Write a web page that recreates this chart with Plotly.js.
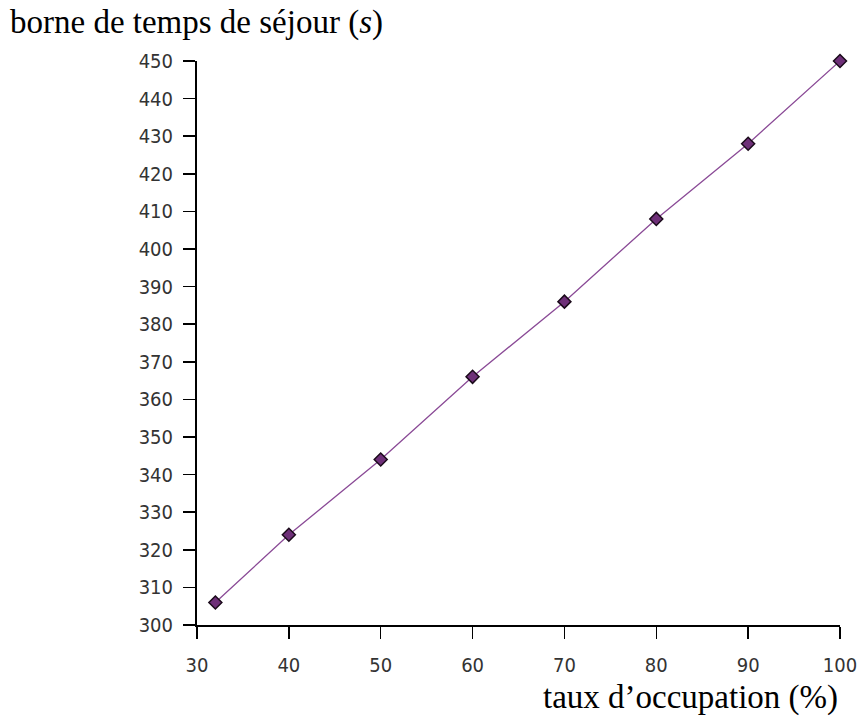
<!DOCTYPE html>
<html><head><meta charset="utf-8">
<script src="https://cdn.plot.ly/plotly-3.0.1.min.js"></script>
<style>html,body{margin:0;padding:0;background:#fff}#c{width:859px;height:717px}</style>
</head><body><div id="c"></div>
<script>
var occupation = [32, 40, 50, 60, 70, 80, 90, 100];
var borne = [306, 324, 344, 366, 386, 408, 428, 450];
var xTicks = [30, 40, 50, 60, 70, 80, 90, 100];
var yTicks = [300, 310, 320, 330, 340, 350, 360, 370, 380, 390, 400, 410, 420, 430, 440, 450];
var yTitle = 'borne de temps de séjour (<i>s</i>)';
var xTitle = 'taux d’occupation (%)';

var tickFont = {family: '"DejaVu Sans Condensed", "Liberation Sans", sans-serif', size: 20, color: '#333'};
var titleFont = {family: '"Liberation Serif", "DejaVu Serif", serif', size: 33, color: '#000'};

Plotly.newPlot('c', [{
  x: occupation, y: borne, type: 'scatter', mode: 'lines+markers', cliponaxis: false,
  line: {color: '#8a4a96', width: 1.3},
  marker: {symbol: 'diamond', size: 10, color: '#6e2f78', line: {color: '#1a0a1a', width: 1.5}}
}], {
  width: 859, height: 717,
  margin: {l: 197, r: 19, t: 61, b: 92},
  paper_bgcolor: '#fff', plot_bgcolor: '#fff',
  showlegend: false,
  xaxis: {range: [30, 100], tickvals: xTicks, ticks: 'outside', ticklen: 12, tickwidth: 1.5, tickcolor: '#000',
    showline: true, linecolor: '#000', linewidth: 2, showgrid: false, zeroline: false, tickfont: tickFont, ticklabelstandoff: 9},
  yaxis: {range: [300, 450], tickvals: yTicks, ticks: 'outside', ticklen: 12, tickwidth: 1.5, tickcolor: '#000',
    showline: true, linecolor: '#000', linewidth: 2, showgrid: false, zeroline: false, tickfont: tickFont, ticklabelstandoff: 6},
  annotations: [
    {text: yTitle, xref: 'paper', yref: 'paper', x: -189/643, y: 1, yshift: 39, xanchor: 'left', yanchor: 'middle', showarrow: false, font: titleFont},
    {text: xTitle, xref: 'paper', yref: 'paper', x: 1, y: 0, yshift: -72, xanchor: 'right', yanchor: 'middle', showarrow: false, font: titleFont}
  ]
}, {staticPlot: true});
</script>
</body></html>
